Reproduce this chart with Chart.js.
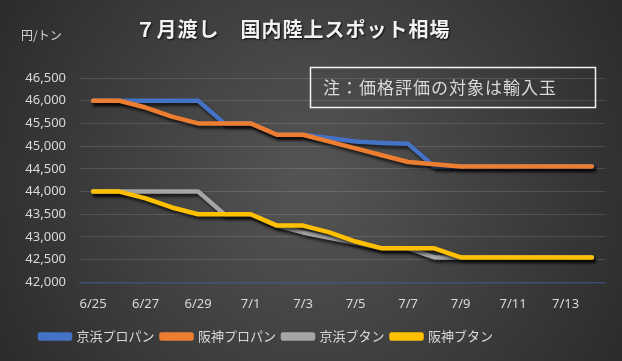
<!DOCTYPE html>
<html>
<head>
<meta charset="utf-8">
<script src="https://cdn.jsdelivr.net/npm/chart.js@4"></script>
<style>
  html, body { margin: 0; padding: 0; background: #2b2b2b; }
  #wrap { width: 622px; height: 361px; }
</style>
</head>
<body>
<div id="wrap"><canvas id="grafico-spot" width="622" height="361"></canvas></div>
<script>
// データ
const dates = ['6/25','6/26','6/27','6/28','6/29','6/30','7/1','7/2','7/3','7/4',
               '7/5','7/6','7/7','7/8','7/9','7/10','7/11','7/12','7/13','7/14'];

const keihinPropane  = [46000,46000,46000,46000,46000,45500,45500,45250,45250,45180,
                        45100,45070,45050,44550,44550,44550,44550,44550,44550,44550];
const hanshinPropane = [46000,46000,45850,45650,45500,45500,45500,45250,45250,45100,
                        44950,44800,44650,44600,44550,44550,44550,44550,44550,44550];
const keihinButane   = [44000,44000,44000,44000,44000,43500,43500,43250,43100,42980,
                        42870,42750,42750,42550,42550,42550,42550,42550,42550,42550];
const hanshinButane  = [44000,44000,43850,43650,43500,43500,43500,43250,43250,43100,
                        42900,42750,42750,42750,42550,42550,42550,42550,42550,42550];

const seriesNames = ['京浜プロパン', '阪神プロパン', '京浜ブタン', '阪神ブタン'];
const seriesColors = ['#4472C4', '#ED7D31', '#A5A5A5', '#FFC000'];

const titleText = '７月渡し　国内陸上スポット相場';
const unitText = '円/トン';
const noteText = '注：価格評価の対象は輸入玉';

const fontJP = '"Noto Sans CJK JP", "Noto Sans", sans-serif';

// 背景・タイトル・注記
const decorPlugin = {
  id: 'decor',
  afterLayout(chart) {
    // 凡例の位置を元の図に合わせる
    if (chart.legend) {
      chart.legend.left = 33;
      chart.legend.top -= 3;
    }
  },
  beforeDraw(chart) {
    const { ctx, width, height } = chart;
    ctx.save();
    const g = ctx.createRadialGradient(width * 0.5, height * 0.5, 20, width * 0.5, height * 0.5, width * 0.62);
    g.addColorStop(0, '#535353');
    g.addColorStop(1, '#282828');
    ctx.fillStyle = g;
    ctx.fillRect(0, 0, width, height);
    ctx.restore();
  },
  afterDraw(chart) {
    const { ctx } = chart;
    ctx.save();
    // タイトル
    ctx.font = 'bold 20px ' + fontJP;
    ctx.letterSpacing = '1px';
    ctx.textAlign = 'center';
    ctx.textBaseline = 'middle';
    ctx.shadowColor = 'rgba(0,0,0,0.8)';
    ctx.shadowOffsetX = 1;
    ctx.shadowOffsetY = 1;
    ctx.shadowBlur = 2;
    ctx.fillStyle = '#f2f2f2';
    ctx.fillText(titleText, 293, 29);
    ctx.shadowColor = 'transparent';
    ctx.letterSpacing = '0px';

    // 単位
    ctx.font = '12px ' + fontJP;
    ctx.textAlign = 'left';
    ctx.fillStyle = '#d0d0d0';
    ctx.fillText(unitText, 21, 35);

    // 注記ボックス
    ctx.strokeStyle = '#f2f2f2';
    ctx.lineWidth = 1.5;
    ctx.strokeRect(310.5, 67.5, 285, 40);
    ctx.font = '17px ' + fontJP;
    ctx.letterSpacing = '1px';
    ctx.fillStyle = '#d9d9d9';
    ctx.fillText(noteText, 323, 88);
    ctx.restore();
  }
};

// 線の影
const shadowPlugin = {
  id: 'lineShadow',
  beforeDatasetDraw(chart) {
    const ctx = chart.ctx;
    ctx.save();
    ctx.shadowColor = 'rgba(0,0,0,0.65)';
    ctx.shadowOffsetX = 2;
    ctx.shadowOffsetY = 3;
    ctx.shadowBlur = 3;
  },
  afterDatasetDraw(chart) {
    chart.ctx.restore();
  }
};

const valores = [keihinPropane, hanshinPropane, keihinButane, hanshinButane];

new Chart(document.getElementById('grafico-spot'), {
  type: 'line',
  data: {
    labels: dates,
    datasets: valores.map((v, i) => ({
      label: seriesNames[i],
      data: v,
      borderColor: seriesColors[i],
      backgroundColor: seriesColors[i],
      borderWidth: 4.5,
      pointRadius: 0,
      tension: 0,
      borderJoinStyle: 'round',
      borderCapStyle: 'round',
      order: 4 - i
    }))
  },
  options: {
    responsive: false,
    animation: false,
    devicePixelRatio: 1,
    layout: { padding: { top: 78, left: 10, right: 17, bottom: 5 } },
    scales: {
      x: {
        offset: true,
        grid: { display: false, drawTicks: false },
        border: { display: true, color: 'rgba(70,95,160,0.55)', width: 1.5 },
        ticks: {
          autoSkip: false,
          maxRotation: 0,
          padding: 14,
          color: '#d9d9d9',
          font: { family: '"Noto Sans", sans-serif', size: 13 },
          callback: function (val, idx) { return idx % 2 === 0 ? this.getLabelForValue(val) : ''; }
        }
      },
      y: {
        min: 42000,
        max: 46500,
        afterFit(scale) { scale.width = 70; },
        grid: {
          drawTicks: false,
          color: ctx => ctx.tick && ctx.tick.value === 42000 ? 'rgba(0,0,0,0)' : 'rgba(255,255,255,0.13)'
        },
        border: { display: false },
        ticks: {
          stepSize: 500,
          padding: 14,
          color: '#d9d9d9',
          font: { family: '"Noto Sans", sans-serif', size: 13 },
          callback: v => v.toLocaleString('en-US')
        }
      }
    },
    plugins: {
      title: { display: false },
      tooltip: { enabled: false },
      legend: {
        position: 'bottom',
        align: 'start',
        labels: {
          color: '#d9d9d9',
          boxWidth: 30,
          boxHeight: 4,
          padding: 7,
          font: { family: fontJP, size: 13 },
          sort: (a, b) => a.datasetIndex - b.datasetIndex
        }
      }
    }
  },
  plugins: [decorPlugin, shadowPlugin]
});
</script>
</body>
</html>
